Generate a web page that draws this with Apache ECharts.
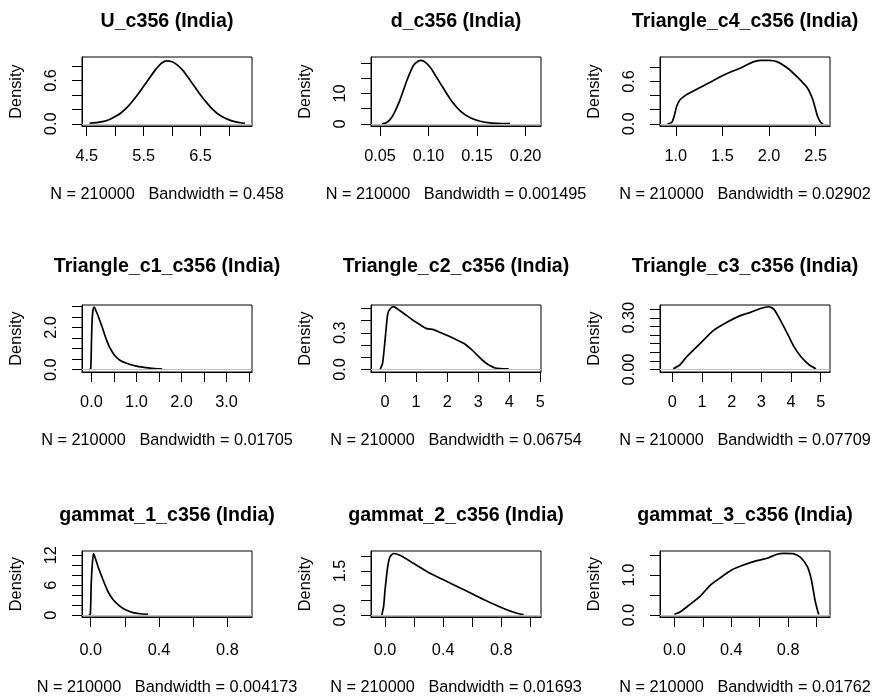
<!DOCTYPE html>
<html><head><meta charset="utf-8">
<script src="https://cdn.jsdelivr.net/npm/echarts@6/dist/echarts.min.js"></script>
<style>html,body{margin:0;padding:0;background:#fff}#c{width:872px;height:697px}</style>
</head><body><div id="c"></div>
<script>
// ---- data ----
const titles = ['U_c356 (India)', 'd_c356 (India)', 'Triangle_c4_c356 (India)',
  'Triangle_c1_c356 (India)', 'Triangle_c2_c356 (India)', 'Triangle_c3_c356 (India)',
  'gammat_1_c356 (India)', 'gammat_2_c356 (India)', 'gammat_3_c356 (India)'];
const sampleSize = 210000;
const bandwidths = ['0.458', '0.001495', '0.02902', '0.01705', '0.06754', '0.07709', '0.004173', '0.01693', '0.01762'];

const uDensity = [[4.55,0.008],[4.7,0.02],[4.8,0.035],[4.9,0.06],[5.0,0.1],[5.1,0.15],[5.2,0.22],[5.3,0.31],[5.4,0.41],[5.5,0.52],[5.6,0.63],[5.7,0.74],[5.8,0.83],[5.9,0.872],[6.0,0.86],[6.1,0.81],[6.2,0.73],[6.3,0.62],[6.4,0.51],[6.5,0.40],[6.6,0.30],[6.7,0.21],[6.8,0.14],[6.9,0.09],[7.0,0.055],[7.1,0.03],[7.2,0.015],[7.28,0.008]];
const dDensity = [[0.052,0],[0.056,0.3],[0.0603,1.4],[0.065,3.8],[0.0706,7.9],[0.0776,14.2],[0.0844,19.2],[0.0895,20.7],[0.0925,20.9],[0.0965,20.3],[0.1017,18.6],[0.107,16.0],[0.112,13.4],[0.1223,8.2],[0.1326,4.3],[0.143,2.0],[0.1533,0.85],[0.1636,0.3],[0.175,0.1],[0.184,0.05]];
const tri4Density = [[0.91,0],[0.957,0.02],[0.985,0.12],[1.01,0.25],[1.046,0.34],[1.1,0.4],[1.153,0.44],[1.297,0.54],[1.4,0.61],[1.5,0.68],[1.6,0.74],[1.697,0.79],[1.77,0.84],[1.84,0.88],[1.92,0.898],[2.0,0.898],[2.09,0.876],[2.197,0.79],[2.305,0.66],[2.41,0.51],[2.47,0.34],[2.52,0.107],[2.555,0.02],[2.58,0]];
const tri1Density = [[-0.05,0],[-0.015,0.05],[0.0,1.2],[0.015,2.3],[0.04,2.9],[0.065,2.97],[0.1,2.8],[0.15,2.55],[0.2,2.25],[0.25,1.95],[0.3,1.62],[0.35,1.33],[0.4,1.08],[0.5,0.72],[0.6,0.5],[0.7,0.37],[0.8,0.29],[0.9,0.22],[1.0,0.17],[1.1,0.13],[1.2,0.1],[1.35,0.06],[1.5,0.04],[1.57,0.03]];
const tri2Density = [[-0.16,0],[-0.08,0.05],[0.0,0.24],[0.086,0.455],[0.16,0.495],[0.27,0.513],[0.48,0.48],[0.7,0.44],[0.91,0.40],[1.13,0.365],[1.345,0.334],[1.56,0.326],[1.8,0.30],[1.99,0.28],[2.25,0.25],[2.53,0.214],[2.75,0.17],[2.96,0.12],[3.12,0.08],[3.28,0.048],[3.55,0.013],[3.98,0.005]];
const tri3Density = [[0.03,0.005],[0.26,0.028],[0.49,0.076],[0.94,0.152],[1.39,0.227],[1.84,0.274],[2.29,0.3125],[2.63,0.331],[2.97,0.354],[3.25,0.364],[3.42,0.35],[3.65,0.284],[3.88,0.208],[4.1,0.133],[4.33,0.076],[4.61,0.028],[4.84,0.005]];
const gam1Density = [[-0.01,0],[-0.002,0.3],[0.003,6.4],[0.01,10.5],[0.0164,12.33],[0.025,11.6],[0.043,9.7],[0.072,7.1],[0.1,4.8],[0.13,3.15],[0.17,1.83],[0.21,0.98],[0.247,0.52],[0.29,0.3],[0.335,0.2]];
const gam2Density = [[-0.023,0],[-0.01,0.3],[0.0,0.87],[0.018,1.64],[0.034,1.98],[0.057,2.09],[0.103,2.03],[0.195,1.76],[0.31,1.42],[0.402,1.2],[0.54,0.87],[0.678,0.53],[0.816,0.23],[0.908,0.067],[0.954,0.02]];
const gam3Density = [[0.0,0.025],[0.04,0.08],[0.11,0.27],[0.18,0.47],[0.25,0.74],[0.322,0.93],[0.405,1.13],[0.486,1.25],[0.58,1.36],[0.652,1.42],[0.722,1.52],[0.77,1.54],[0.84,1.53],[0.887,1.44],[0.935,1.21],[0.963,0.885],[0.988,0.39],[1.01,0.066],[1.016,0.02]];

// tick positions and tick labels
const xTicks = [[4.5,5,5.5,6,6.5,7],[0.05,0.1,0.15,0.2],[1,1.5,2,2.5],
  [0,0.5,1,1.5,2,2.5,3,3.5],[0,1,2,3,4,5],[0,1,2,3,4,5],
  [0,0.2,0.4,0.6,0.8],[0,0.2,0.4,0.6,0.8,1],[0,0.2,0.4,0.6,0.8,1]];
const xTickLabels = [['4.5','5.5','6.5'],['0.05','0.10','0.15','0.20'],['1.0','1.5','2.0','2.5'],
  ['0.0','1.0','2.0','3.0'],['0','1','2','3','4','5'],['0','1','2','3','4','5'],
  ['0.0','0.4','0.8'],['0.0','0.4','0.8'],['0.0','0.4','0.8']];
const yTicks = [[0,0.2,0.4,0.6,0.8],[0,5,10,15,20],[0,0.2,0.4,0.6,0.8],
  [0,0.5,1,1.5,2,2.5,3],[0,0.1,0.2,0.3,0.4,0.5],[0,0.05,0.1,0.15,0.2,0.25,0.3,0.35],
  [0,2,4,6,8,10,12],[0,0.5,1,1.5,2],[0,0.5,1,1.5]];
const yTickLabels = [['0.0','0.6'],['0','10'],['0.0','0.6'],
  ['0.0','2.0'],['0.0','0.3'],['0.00','0.30'],
  ['0','6','12'],['0.0','1.5'],['0.0','1.0']];

// ---- axis extents (plot region) ----
const xRanges = [[4.417,7.404],[0.0407,0.2159],[0.831,2.654],[-0.209,3.567],[-0.452,5.02],[-0.417,5.315],[-0.051,0.944],[-0.097,1.074],[-0.101,1.094]];
const yRanges = [[-0.03,0.925],[-0.7,22.0],[-0.03,0.945],[-0.11,3.07],[-0.02,0.527],[-0.014,0.374],[-0.35,12.85],[-0.06,2.175],[-0.045,1.6]];
const curves = [uDensity,dDensity,tri4Density,tri1Density,tri2Density,tri3Density,gam1Density,gam2Density,gam3Density];

// ---- layout ----
const FF = '"Liberation Sans", Arial, Helvetica, sans-serif';
const colLeft = [82, 371, 660], W = 170;
const rowTop = [57, 305, 551], rowH = [69, 67, 66];
const titleY = [22, 267, 516];
const xLabelMargin = [23, 23, 26];
const subGap = [61, 61, 63];
const FS = 16.3, TFS = 19.6;

const grid = [], xAxis = [], yAxis = [], series = [], title = [];
function fmt(labels){ return v => { const s = labels.find(t => Math.abs(Number(t) - v) < 1e-9); return s === undefined ? '' : s; }; }

curves.forEach((data, i) => {
  const r = Math.floor(i / 3), c = i % 3;
  grid.push({left: colLeft[c], top: rowTop[r], width: W, height: rowH[r], show: true,
    borderColor: '#000', borderWidth: 1, backgroundColor: 'transparent', containLabel: false, outerBoundsMode: 'none'});
  title.push({text: titles[i], left: colLeft[c] + W / 2, top: titleY[r], textAlign: 'center', textVerticalAlign: 'middle', padding: 0,
    textStyle: {fontFamily: FF, fontSize: TFS, fontWeight: 'bold', color: '#000'}});
  xAxis.push({gridIndex: i, type: 'value', min: xRanges[i][0], max: xRanges[i][1],
    axisLine: {show: true, onZero: false, lineStyle: {color: '#000', width: 1}},
    splitLine: {show: false},
    axisTick: {show: true, customValues: xTicks[i], length: 10, lineStyle: {color: '#000', width: 1}},
    axisLabel: {customValues: xTickLabels[i].map(Number), formatter: fmt(xTickLabels[i]), margin: xLabelMargin[r],
      color: '#000', fontSize: FS, fontFamily: FF},
    name: 'N = ' + sampleSize + '   Bandwidth = ' + bandwidths[i], nameLocation: 'middle', nameGap: subGap[r],
    nameTextStyle: {color: '#000', fontSize: FS, fontFamily: FF}});
  yAxis.push({gridIndex: i, type: 'value', min: yRanges[i][0], max: yRanges[i][1],
    axisLine: {show: true, onZero: false, lineStyle: {color: '#000', width: 1}},
    splitLine: {show: false},
    axisTick: {show: true, customValues: yTicks[i], length: 10, lineStyle: {color: '#000', width: 1}},
    axisLabel: {customValues: yTickLabels[i].map(Number), formatter: fmt(yTickLabels[i]), margin: 22, rotate: 90,
      color: '#000', fontSize: FS, fontFamily: FF},
    name: 'Density', nameLocation: 'middle', nameGap: 57, nameRotate: 90,
    nameTextStyle: {color: '#000', fontSize: FS, fontFamily: FF}});
  series.push({type: 'line', xAxisIndex: i, yAxisIndex: i, data: data, symbol: 'none', showSymbol: false,
    smooth: 0.2, silent: true, z: 2, lineStyle: {color: '#000', width: 1.7}});
  series.push({type: 'line', xAxisIndex: i, yAxisIndex: i, data: [], symbol: 'none', silent: true, z: 5,
    markLine: {silent: true, symbol: ['none', 'none'], label: {show: false}, animation: false,
      lineStyle: {color: '#bebebe', type: 'solid', width: 1}, data: [{yAxis: 0}]}});
});

const chart = echarts.init(document.getElementById('c'));
chart.setOption({animation: false, backgroundColor: '#fff', title, grid, xAxis, yAxis, series});
</script></body></html>
